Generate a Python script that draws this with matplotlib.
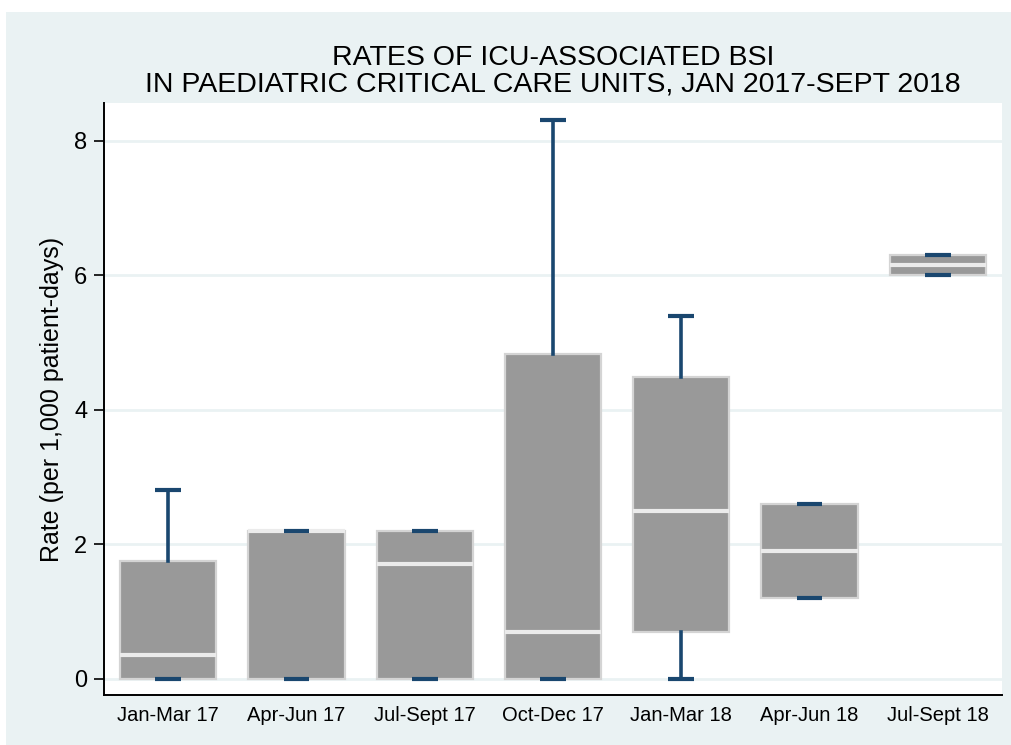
import matplotlib
matplotlib.use("Agg")
import matplotlib.pyplot as plt
from matplotlib.patches import Rectangle

# quarter labels and box summary values (per 1,000 patient-days)
quarters = ['Jan-Mar 17', 'Apr-Jun 17', 'Jul-Sept 17', 'Oct-Dec 17',
            'Jan-Mar 18', 'Apr-Jun 18', 'Jul-Sept 18']
low_whisker = [0.0, 0.0, 0.0, 0.0, 0.0, 1.2, 6.0]
q1 = [0.0, 0.0, 0.0, 0.0, 0.7, 1.2, 6.0]
median = [0.35, 2.2, 1.7, 0.7, 2.5, 1.9, 6.15]
q3 = [1.75, 2.2, 2.2, 4.83, 4.48, 2.6, 6.3]
high_whisker = [2.8, 2.2, 2.2, 8.3, 5.4, 2.6, 6.3]

bg = '#eaf2f3'
navy = '#1a476f'

plt.rcParams['font.family'] = ['Liberation Sans', 'DejaVu Sans']

fig = plt.figure(figsize=(10.12, 7.45), dpi=100)
fig.patch.set_facecolor('white')
# Stata style outer panel
fig.add_artist(Rectangle((6 / 1012, 0), 1, (745 - 12) / 745,
                         transform=fig.transFigure, facecolor=bg,
                         edgecolor='none', zorder=-10))

ax = fig.add_axes([104 / 1012, 50 / 745, 898 / 1012, 592 / 745])
ax.set_facecolor('white')

stats = []
for i in range(len(quarters)):
    stats.append({'label': quarters[i], 'whislo': low_whisker[i], 'q1': q1[i],
                  'med': median[i], 'q3': q3[i], 'whishi': high_whisker[i]})

pos = list(range(1, len(quarters) + 1))
bp = ax.bxp(stats, positions=pos, widths=0.75, capwidths=0.2,
            patch_artist=True, showfliers=False,
            boxprops=dict(facecolor='#999999', edgecolor='#d4d4d4', linewidth=1.6),
            medianprops=dict(color='#ebebeb', linewidth=3, solid_capstyle='butt'),
            whiskerprops=dict(color=navy, linewidth=2.6),
            capprops=dict(color=navy, linewidth=3, solid_capstyle='butt'))
for c in bp['caps']:
    c.set_zorder(4)

ax.set_xlim(0.5, 7.5)
ax.set_ylim(-0.24, 8.56)
ax.set_yticks([0, 2, 4, 6, 8])
ax.yaxis.grid(True, color=bg, linewidth=2)
ax.set_axisbelow(True)

for s in ['top', 'right']:
    ax.spines[s].set_visible(False)
for s in ['left', 'bottom']:
    ax.spines[s].set_linewidth(1.4)

ax.tick_params(axis='y', direction='out', length=7, width=1.2, labelsize=17, pad=5)
ax.tick_params(axis='x', length=0, labelsize=14.5, pad=8)
ax.set_ylabel('Rate (per 1,000 patient-days)', fontsize=18, labelpad=7)

ax.set_title('RATES OF ICU-ASSOCIATED BSI\n'
             'IN PAEDIATRIC CRITICAL CARE UNITS, JAN 2017-SEPT 2018',
             fontsize=20.5, linespacing=1.05, pad=8)

fig.savefig('out.png', dpi=100, facecolor='white')
